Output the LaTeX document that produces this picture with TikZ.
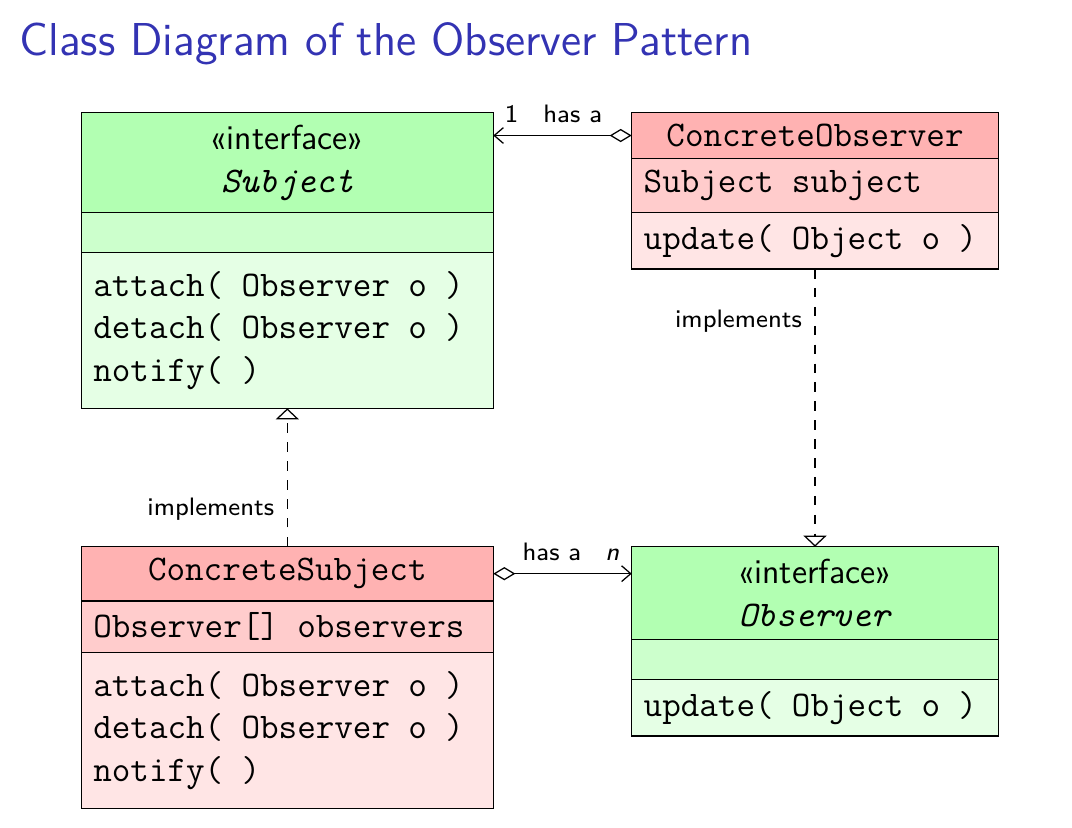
\documentclass[tikz,border=0pt]{standalone}
\usepackage{fontspec}
\usepackage{tikz}
\usetikzlibrary{positioning,arrows.meta,calc}
\definecolor{titleblue}{RGB}{51,51,179}
\tikzset{
    classpart/.style = {
        draw,
        shape=rectangle,
        outer sep=0pt,
        inner xsep=3.8pt,
        inner ysep=0pt,
        anchor=north,
        font=\ttfamily\fontsize{11.45}{13.6}\selectfont,
        execute at begin node={\spaceskip 5.8pt\relax}
    },
    widebox/.style = {
        minimum width=130.8pt,
        text width=123.2pt
    },
    narrowbox/.style = {
        minimum width=116.4pt,
        text width=108.8pt
    },
    greenhead/.style = {classpart, align=center, fill=green!30},
    greenattr/.style = {classpart, align=left, fill=green!20},
    greenops/.style = {classpart, align=left, fill=green!10},
    redhead/.style = {classpart, align=center, fill=red!30},
    redattr/.style = {classpart, align=left, fill=red!20},
    redops/.style = {classpart, align=left, fill=red!10},
    lbl/.style = {
        inner sep=0pt,
        font=\sffamily\fontsize{8}{9.5}\selectfont
    },
    titletext/.style = {
        anchor=base west,
        inner sep=0pt,
        text=titleblue,
        font=\sffamily\fontsize{14.65}{17}\selectfont
    },
    hasa/.style = {
        {Diamond[open,length=7pt,width=4.2pt]}-{Straight Barb[length=2.9pt,width=5pt]}
    },
    realize/.style = {
        dashed,
        -{Triangle[open,length=3.5pt,width=7.3pt]}
    }
}
\newcommand{\stereo}{{\sffamily\fontsize{11}{13.6}\selectfont «interface»}}
\begin{document}
\begin{tikzpicture}[x=0.3175pt, y=-0.3175pt]
            \useasboundingbox (0,0) rectangle (1072,827);
            \node[titletext] (title) at (19,55) {Class Diagram of the Observer Pattern};

            \node[greenhead, widebox, minimum height=31.75pt] (subjecthead) at (287.3,112.7) {\stereo\\\textit{Subject}};
            \node[greenattr, widebox, minimum height=12.7pt, below=0pt of subjecthead] (subjectattr) {};
            \node[greenops, widebox, minimum height=49.4pt, below=0pt of subjectattr] (subjectops) {attach( Observer o )\\detach( Observer o )\\notify( )};

            \node[redhead, narrowbox, minimum height=14.48pt] (cobshead) at (815,112.7) {ConcreteObserver};
            \node[redattr, narrowbox, minimum height=17.27pt, below=0pt of cobshead] (cobsattr) {Subject subject};
            \node[redops, narrowbox, minimum height=17.9pt, below=0pt of cobsattr] (cobsops) {update( Object o )};

            \node[redhead, widebox, minimum height=17.37pt] (csubjhead) at (287.3,546.3) {ConcreteSubject};
            \node[redattr, widebox, minimum height=16.38pt, below=0pt of csubjhead] (csubjattr) {Observer[] observers};
            \node[redops, widebox, minimum height=49.5pt, below=0pt of csubjattr] (csubjops) {attach( Observer o )\\detach( Observer o )\\notify( )};

            \node[greenhead, narrowbox, minimum height=29.4pt] (observerhead) at (815,546.7) {\stereo\\\textit{Observer}};
            \node[greenattr, narrowbox, minimum height=12.7pt, below=0pt of observerhead] (observerattr) {};
            \node[greenops, narrowbox, minimum height=18pt, below=0pt of observerattr] (observerops) {update( Object o )};

            \path[draw, hasa] (cobshead.west) -- (cobshead.west -| subjecthead.east)
                node[lbl, pos=0, above left=4pt and 9.2pt] {has a}
                node[lbl, pos=1, above right=4pt and 3.5pt] {1};
            \path[draw, hasa] (csubjhead.east) -- (csubjhead.east -| observerhead.west)
                node[lbl, pos=0, above right=4pt and 9.1pt] {has a}
                node[lbl, pos=1, above left=4pt and 3.8pt] {\textit{n}};
            \path[draw, realize] (csubjhead.north) -- (subjectops.south)
                node[lbl, pos=0.272, left=4pt] {implements};
            \path[draw, realize] (cobsops.south) -- (observerhead.north)
                node[lbl, pos=0.186, left=4pt] {implements};
        \end{tikzpicture}
\end{document}
